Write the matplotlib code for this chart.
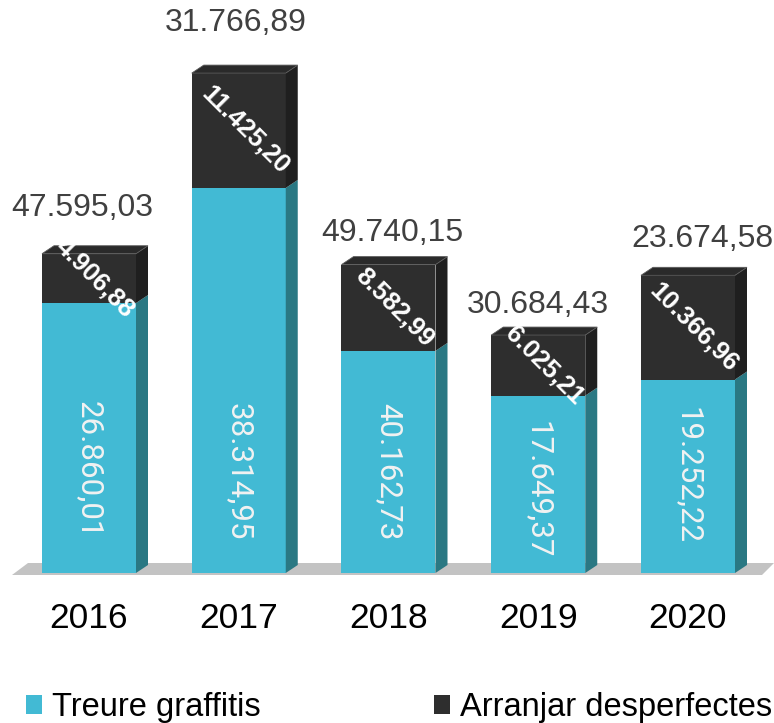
import numpy as np
import matplotlib
matplotlib.use('Agg')
import matplotlib.pyplot as plt
from matplotlib.patches import Polygon, Patch

# data (bar heights, labels as printed)
years = ['2016', '2017', '2018', '2019', '2020']
treure = [26860.01, 38314.95, 22101.44, 17649.37, 19252.22]
arranjar = [4906.88, 11425.20, 8582.99, 6025.21, 10366.96]
treure_labels = ['26.860,01', '38.314,95', '40.162,73', '17.649,37', '19.252,22']
arranjar_labels = ['4.906,88', '11.425,20', '8.582,99', '6.025,21', '10.366,96']
total_labels = ['47.595,03', '31.766,89', '49.740,15', '30.684,43', '23.674,58']

# layout of the labels (value units above the floor / x offset in category units)
treure_label_y = [10250, 10050, 10050, 8260, 9750]
total_label_y = [36300, 54700, 33850, 26650, 33200]
total_label_dx = [-0.043, -0.017, 0.027, 0.0, 0.098]

blue = '#42bad4'
blue_side = '#2a7883'
dark = '#2e2e2e'
dark_side = '#1f1f1f'
dark_top = '#2a2a2a'

W, H = 774, 723
fig = plt.figure(figsize=(W / 100, H / 100), dpi=100)
ax = fig.add_axes([0, 150 / H, 1, 573 / H])

px_x = 149.75        # pixels per category
px_y = 1 / 99.5      # pixels per value unit
ax.set_xlim(-89 / px_x, (W - 89) / px_x)
ax.set_ylim(0, 573 / px_y)

width = 94 / px_x
dx = 12 / px_x
dy = 8 / px_y

x = np.arange(len(years))
treure = np.array(treure)
arranjar = np.array(arranjar)
total = treure + arranjar

# floor
fl = [(-77 / px_x, -2 / px_y), (673 / px_x, -2 / px_y),
      (685 / px_x, 10 / px_y), (-61 / px_x, 10 / px_y)]
ax.add_patch(Polygon(fl, closed=True, facecolor='#c3c3c3', edgecolor='none',
                     zorder=0, clip_on=False))

ax.bar(x, treure, width, color=blue, zorder=2)
ax.bar(x, arranjar, width, bottom=treure, color=dark, zorder=2)

for i in range(len(x)):
    r = x[i] + width / 2
    l = x[i] - width / 2
    ax.add_patch(Polygon([(r, 0), (r + dx, dy), (r + dx, treure[i] + dy), (r, treure[i])],
                         facecolor=blue_side, edgecolor='none', zorder=2))
    ax.add_patch(Polygon([(r, treure[i]), (r + dx, treure[i] + dy),
                          (r + dx, total[i] + dy), (r, total[i])],
                         facecolor=dark_side, edgecolor='none', zorder=2))
    ax.add_patch(Polygon([(l, total[i]), (l + dx, total[i] + dy),
                          (r + dx, total[i] + dy), (r, total[i])],
                         facecolor=dark_top, edgecolor='#5a5a5a', linewidth=0.6, zorder=2))

    ax.text(x[i], treure_label_y[i], treure_labels[i], rotation=-90, ha='center', va='center',
            color='#f2f2f2', fontsize=22.5, family='Roboto', zorder=3)
    ax.text(x[i] + dx / 2, treure[i] + arranjar[i] / 2, arranjar_labels[i], rotation=-45,
            ha='center', va='center', color='white', fontsize=18.5, fontweight='bold',
            family='Liberation Sans', zorder=3)
    ax.text(x[i] + total_label_dx[i], total_label_y[i], total_labels[i], ha='center', va='center',
            color='#404040', fontsize=23, family='Liberation Sans', zorder=3)

ax.set_xticks(x, years)
ax.tick_params(axis='x', length=0, pad=21, labelsize=25.5)
for t in ax.get_xticklabels():
    t.set_family('Liberation Sans')
ax.set_yticks([])
for s in ax.spines.values():
    s.set_visible(False)
ax.patch.set_alpha(0)

handles = [Patch(facecolor=blue, label='Treure graffitis'),
           Patch(facecolor=dark, label='Arranjar desperfectes')]
fig.legend(handles=handles, loc='lower left', bbox_to_anchor=(13 / W, -13 / H), ncol=2,
           frameon=False, prop={'family': 'Liberation Sans', 'size': 23.5},
           handlelength=0.5, handleheight=0.5, handletextpad=0.3, columnspacing=5.3,
           borderaxespad=0)

fig.savefig('out.png', dpi=100)
